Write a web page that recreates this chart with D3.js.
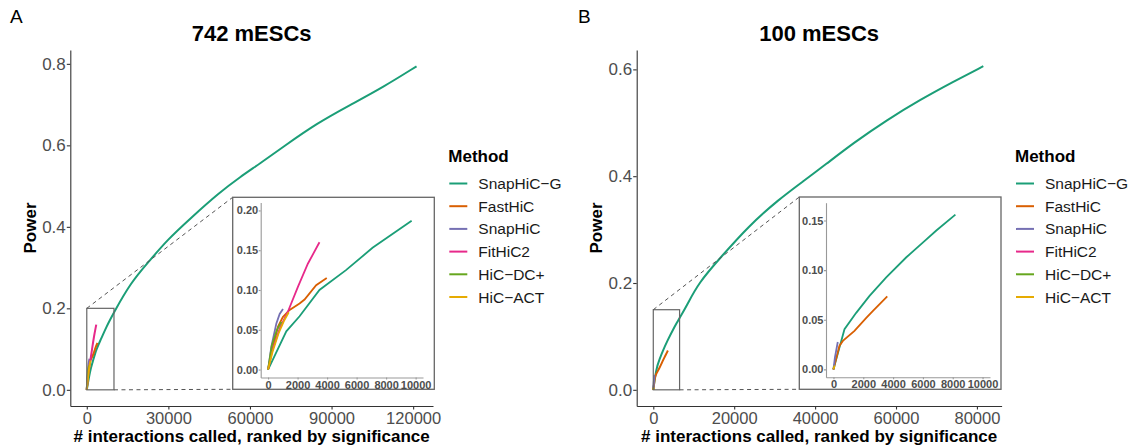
<!DOCTYPE html>
<html>
<head>
<meta charset="utf-8">
<script src="https://cdn.jsdelivr.net/npm/d3@7"></script>
<style>
  body { margin: 0; background: #fff; }
  text { font-family: "Liberation Sans", Arial, Helvetica, sans-serif; }
</style>
</head>
<body>
<div id="chart-area"></div>
<script>
// legend order = draw order
const METHODS = ["SnapHiC-G", "FastHiC", "SnapHiC", "FitHiC2", "HiC-DC+", "HiC-ACT"];
const COLORS = ["#1B9E77", "#D95F02", "#7570B3", "#E7298A", "#66A61E", "#E6AB02"];

// 742 mESCs : [# interactions, power]
const A_SNAPHIC_G = [[0, 0], [1236, 0.048], [2135, 0.067], [3483, 0.1], [5280, 0.125], [7080, 0.153],
  [9730, 0.187], [16140, 0.263], [22860, 0.315], [29590, 0.368], [38140, 0.421], [48530, 0.483],
  [56480, 0.523], [63810, 0.556], [72350, 0.597], [84570, 0.654], [96800, 0.699], [109030, 0.743], [121250, 0.794]];
const A_FASTHIC = [[0, 0], [225, 0.021], [450, 0.0375], [674, 0.054], [1000, 0.066], [1460, 0.075],
  [2135, 0.083], [2472, 0.088], [3258, 0.106], [3977, 0.115]];
const A_SNAPHIC = [[0, 0], [225, 0.029], [562, 0.058], [786, 0.07], [1011, 0.076]];
const A_FITHIC2 = [[0, 0], [300, 0.025], [800, 0.052], [1348, 0.073], [2022, 0.104], [2696, 0.133], [3483, 0.16]];
const A_HICDC = [[0, 0], [250, 0.03], [600, 0.05], [900, 0.06]];
const A_HICACT = [[0, 0], [300, 0.022], [700, 0.045], [1100, 0.062], [1400, 0.072]];

// 100 mESCs
const B_SNAPHIC_G = [[0, 0], [740, 0.0405], [1525, 0.057], [2420, 0.074], [3540, 0.0927], [4890, 0.113],
  [6010, 0.128], [6900, 0.14], [8180, 0.156], [11120, 0.2], [16900, 0.25], [23490, 0.306], [30900, 0.356],
  [37500, 0.393], [42440, 0.421], [49440, 0.462], [57690, 0.505], [65930, 0.543], [74170, 0.577], [81580, 0.606]];
const B_FASTHIC = [[0, 0], [400, 0.0236], [630, 0.0287], [1410, 0.0388], [2200, 0.052], [2650, 0.059], [3610, 0.0735]];
const B_SNAPHIC = [[0, 0], [100, 0.012], [290, 0.0276]];
const B_FITHIC2 = [[0, 0], [30, 0.002]];
const B_HICDC = [[0, 0], [40, 0.003]];
const B_HICACT = [[0, 0], [80, 0.004]];

// tick labels
const A_X_TICKS = [0, 30000, 60000, 90000, 120000];
const A_Y_TICKS = [0, 0.2, 0.4, 0.6, 0.8];
const A_INSET_Y_TICKS = [0, 0.05, 0.1, 0.15, 0.2];
const B_X_TICKS = [0, 20000, 40000, 60000, 80000];
const B_Y_TICKS = [0, 0.2, 0.4, 0.6];
const B_INSET_Y_TICKS = [0, 0.05, 0.1, 0.15];
const INSET_X_TICKS = [0, 2000, 4000, 6000, 8000, 10000];

const svg = d3.select("#chart-area").append("svg")
  .attr("width", 1132)
  .attr("height", 448);

const TOP = 50, BOTTOM = 406;

function styleAxis(sel, size, bold, color) {
  sel.select(".domain").attr("stroke", color).attr("stroke-width", 1.1);
  sel.selectAll(".tick line").attr("stroke", color).attr("stroke-width", 1.1);
  sel.selectAll(".tick text")
    .attr("font-size", size)
    .attr("font-weight", bold ? "bold" : "normal")
    .attr("fill", "#4d4d4d");
  sel.attr("font-family", null).attr("font-size", null);
}

function drawPanel(p) {
  const g = svg.append("g");

  const x = d3.scaleLinear().domain(p.xDomain).range([p.left, p.right]);
  const y = d3.scaleLinear().domain(p.yDomain).range([BOTTOM, TOP]);

  // panel letter and title
  g.append("text").attr("x", p.letterX).attr("y", 22.7)
    .attr("font-size", 19).text(p.letter);
  g.append("text").attr("x", (p.left + p.right) / 2).attr("y", 40.5)
    .attr("text-anchor", "middle").attr("font-size", 22).attr("font-weight", "bold")
    .text(p.title);

  // axes
  g.append("g").attr("transform", `translate(0,${BOTTOM})`)
    .call(d3.axisBottom(x).tickValues(p.xTicks).tickFormat(d3.format("d"))
      .tickSize(3.5).tickSizeOuter(0).tickPadding(2.5))
    .call(s => styleAxis(s, 16.5, false, "#333"));
  g.append("g").attr("transform", `translate(${p.left},0)`)
    .call(d3.axisLeft(y).tickValues(p.yTicks).tickFormat(d3.format(".1f"))
      .tickSize(3.5).tickSizeOuter(0).tickPadding(1))
    .call(s => styleAxis(s, 17, false, "#333"));

  g.append("text").attr("x", (p.left + p.right) / 2).attr("y", 441.5)
    .attr("text-anchor", "middle").attr("font-size", 17).attr("font-weight", "bold")
    .text("# interactions called, ranked by significance");
  g.append("text")
    .attr("transform", `translate(${p.left - 34.5},${(TOP + BOTTOM) / 2}) rotate(-90)`)
    .attr("text-anchor", "middle").attr("font-size", 17).attr("font-weight", "bold")
    .text("Power");

  // main curves (smoothed through the read-off points)
  const line = d3.line().x(d => x(d[0])).y(d => y(d[1])).curve(d3.curveBasis);
  g.selectAll(".main-line")
    .data(p.series)
    .enter().append("path")
    .attr("class", "main-line")
    .attr("d", d => line(d))
    .attr("fill", "none")
    .attr("stroke", (d, i) => COLORS[i])
    .attr("stroke-width", 2);

  // zoom rectangle on main panel
  const z = p.zoom;
  g.append("rect")
    .attr("x", x(z[0])).attr("y", y(z[3]))
    .attr("width", x(z[1]) - x(z[0])).attr("height", y(z[2]) - y(z[3]))
    .attr("fill", "none").attr("stroke", "#666").attr("stroke-width", 1.2);

  const b = p.insetBox;
  g.append("line")
    .attr("x1", x(z[0])).attr("y1", y(z[3])).attr("x2", b.x0).attr("y2", b.y0)
    .attr("stroke", "#555").attr("stroke-width", 1).attr("stroke-dasharray", "4,3.5");
  g.append("line")
    .attr("x1", x(z[1])).attr("y1", y(z[2])).attr("x2", b.x0).attr("y2", b.y1)
    .attr("stroke", "#555").attr("stroke-width", 1).attr("stroke-dasharray", "4,3.5");

  // inset
  g.append("rect")
    .attr("x", b.x0).attr("y", b.y0).attr("width", b.x1 - b.x0).attr("height", b.y1 - b.y0)
    .attr("fill", "#fff").attr("stroke", "#666").attr("stroke-width", 1.3);

  const ix = d3.scaleLinear().domain([-500, 10500]).range(p.insetX);
  const iy = d3.scaleLinear().domain(p.insetYDomain).range(p.insetY);

  g.append("g").attr("transform", `translate(0,${p.insetY[0]})`)
    .call(d3.axisBottom(ix).tickValues(INSET_X_TICKS).tickFormat(d3.format("d"))
      .tickSize(2).tickSizeOuter(0).tickPadding(1.3))
    .call(s => styleAxis(s, 11, true, "#999"));
  g.append("g").attr("transform", `translate(${p.insetX[0]},0)`)
    .call(d3.axisLeft(iy).tickValues(p.insetYTicks).tickFormat(d3.format(".2f"))
      .tickSize(2).tickSizeOuter(0).tickPadding(0.5))
    .call(s => styleAxis(s, 11, true, "#999"));

  const iline = d3.line().x(d => ix(d[0])).y(d => iy(d[1]));
  const yMax = p.insetYDomain[1];
  g.selectAll(".inset-line")
    .data(p.series.map(s => s.filter(d => d[0] <= 10000 && d[1] <= yMax)))
    .enter().append("path")
    .attr("class", "inset-line")
    .attr("d", d => iline(d))
    .attr("fill", "none")
    .attr("stroke", (d, i) => COLORS[i])
    .attr("stroke-width", 1.8);

  // legend
  const leg = g.append("g");
  leg.append("text").attr("x", p.legendX).attr("y", 161.5)
    .attr("font-size", 17).attr("font-weight", "bold").text("Method");
  METHODS.forEach((m, i) => {
    const ly = 183.5 + i * 22.7;
    leg.append("line")
      .attr("x1", p.legendX + 1).attr("x2", p.legendX + 19)
      .attr("y1", ly).attr("y2", ly)
      .attr("stroke", COLORS[i]).attr("stroke-width", 2);
    leg.append("text").attr("x", p.legendX + 30).attr("y", ly).attr("dy", "0.36em")
      .attr("font-size", 15.5).attr("fill", "#1a1a1a")
      .text(m.replace("-", "\u2212"));
  });
}

drawPanel({
  letter: "A", letterX: 10, title: "742 mESCs",
  left: 70.3, right: 433, xDomain: [-6060, 127300], yDomain: [-0.0397, 0.834],
  xTicks: A_X_TICKS, yTicks: A_Y_TICKS,
  series: [A_SNAPHIC_G, A_FASTHIC, A_SNAPHIC, A_FITHIC2, A_HICDC, A_HICACT],
  zoom: [0, 10000, 0, 0.2],
  insetBox: { x0: 232.7, x1: 434.3, y0: 197.3, y1: 389.3 },
  insetX: [260.7, 423], insetY: [377.5, 202.5], insetYDomain: [-0.01, 0.21],
  insetYTicks: A_INSET_Y_TICKS,
  legendX: 448.3
});

drawPanel({
  letter: "B", letterX: 578, title: "100 mESCs",
  left: 636.7, right: 1001.6, xDomain: [-4100, 86100], yDomain: [-0.0303, 0.6363],
  xTicks: B_X_TICKS, yTicks: B_Y_TICKS,
  series: [B_SNAPHIC_G, B_FASTHIC, B_SNAPHIC, B_FITHIC2, B_HICDC, B_HICACT],
  zoom: [0, 6500, 0, 0.15],
  insetBox: { x0: 799.3, x1: 1001, y0: 197, y1: 389.3 },
  insetX: [826, 990], insetY: [377.3, 202.7], insetYDomain: [-0.008, 0.168],
  insetYTicks: B_INSET_Y_TICKS,
  legendX: 1015
});
</script>
</body>
</html>
